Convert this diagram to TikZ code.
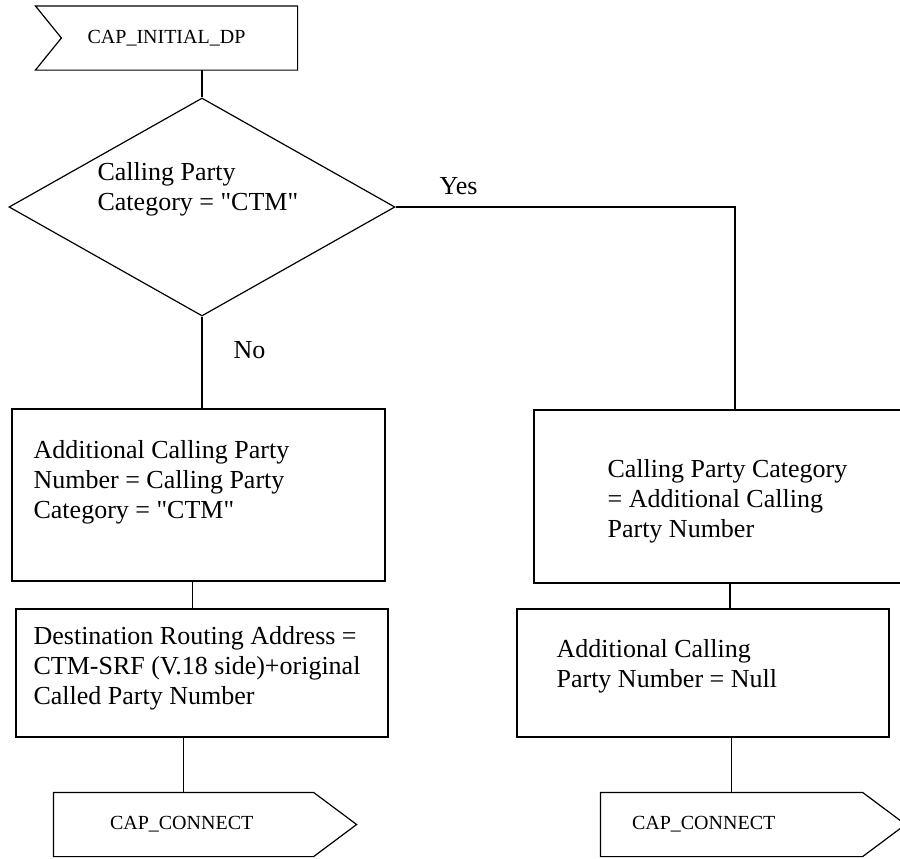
\documentclass[tikz,border=0pt]{standalone}
\usepackage{fontspec}
\setmainfont{Liberation Serif}
\usetikzlibrary{shapes.geometric}
\tikzset{
	box/.style={draw, rectangle, inner sep=0pt},
	txt/.style={anchor=north west, inner sep=0pt, align=left, font=\fontsize{13}{15}\selectfont},
	lbl/.style={anchor=base west, inner sep=0pt, font=\fontsize{13}{15}\selectfont},
	sig/.style={rectangle, inner sep=0pt, minimum height=31.5pt, font=\fontsize{10}{12}\selectfont},
}
\newcommand{\qCTM}{\textquotedbl CTM\textquotedbl}

\begin{document}
\begin{tikzpicture}[x=0.5pt,y=-0.5pt,line width=0.6pt]
			\useasboundingbox (0,0) rectangle (900,858);
			% input signal
			\node[sig, minimum width=130.5pt] (idp) at (166.5,38) {CAP\_INITIAL\_DP};
			\draw (idp.north west) -- (idp.north east) -- (idp.south east) -- (idp.south west) -- ([xshift=13pt]idp.west) -- cycle;
			% decision
			\node[diamond, draw, inner sep=0pt, minimum width=193pt, minimum height=109pt] (dec) at (202,207) {};
			\node[txt] (decTxt) at (97,162) {Calling Party\\Category = \qCTM};
			\node[lbl] (yes) at (439,194) {Yes};
			\node[lbl] (no) at (233,358) {No};
			% tasks
			\node[box, minimum width=186.5pt, minimum height=86pt] (boxA) at (198.5,495) {};
			\node[box, minimum width=186pt, minimum height=64pt] (boxB) at (202,673) {};
			\node[box, minimum width=201pt, minimum height=86.5pt] (boxC) at (735,496.5) {};
			\node[box, minimum width=186pt, minimum height=64pt] (boxD) at (703,673) {};
			\node[txt] (txtA) at (33,440) {Additional Calling Party\\Number = Calling Party\\Category = \qCTM};
			\node[txt] (txtB) at (33,626) {Destination Routing Address =\\CTM-SRF (V.18 side)+original\\Called Party Number};
			\node[txt] (txtC) at (607,459) {Calling Party Category\\= Additional Calling\\Party Number};
			\node[txt] (txtD) at (556,639) {Additional Calling\\Party Number = Null};
			% output signals
			\node[sig, minimum width=129.5pt, text width=73.5pt, inner xsep=28pt, align=left] (conL) at (183.5,824.5) {CAP\_CONNECT};
			\node[sig, minimum width=130.5pt, text width=99.5pt, inner xsep=15.5pt, align=left] (conR) at (731.5,824.5) {CAP\_CONNECT};
			\draw (conL.north west) -- (conL.north east) -- ([xshift=21.5pt]conL.east) -- (conL.south east) -- (conL.south west) -- cycle;
			\draw (conR.north west) -- (conR.north east) -- ([xshift=21.5pt]conR.east) -- (conR.south east) -- (conR.south west) -- cycle;
			% connectors
			\draw (dec.north |- idp.south) -- (dec.north);
			\draw (dec.south) -- (dec.south |- boxA.north);
			\draw (dec.east) -| (boxC.north);
			\draw ([xshift=-3pt]boxA.south) -- ([xshift=-3pt]boxA.south |- boxB.north);
			\draw ([xshift=-2.5pt]boxC.south) -- ([xshift=-2.5pt]boxC.south |- boxD.north);
			\draw (conL.north |- boxB.south) -- (conL.north);
			\draw (conR.north |- boxD.south) -- (conR.north);
		\end{tikzpicture}
\end{document}
